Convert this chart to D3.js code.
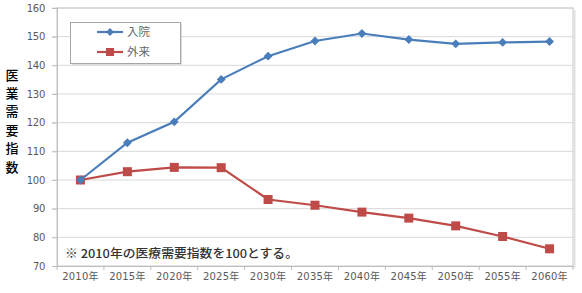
<!DOCTYPE html>
<html>
<head>
<meta charset="utf-8">
<script src="https://cdn.jsdelivr.net/npm/d3@7/dist/d3.min.js"></script>
<style>
  body { margin: 0; background: #fff; }
  svg { display: block; font-family: "Noto Sans CJK JP", sans-serif; }
</style>
</head>
<body>
<svg id="chart"></svg>
<script>
// data
const years = ["2010年", "2015年", "2020年", "2025年", "2030年", "2035年",
  "2040年", "2045年", "2050年", "2055年", "2060年"];
const inpatient = [100, 113.0, 120.3, 135.1, 143.2, 148.5, 151.1, 149.0, 147.5, 148.0, 148.3];
const outpatient = [100, 102.9, 104.4, 104.3, 93.2, 91.2, 88.8, 86.7, 84.0, 80.3, 76.0];
const yTicks = [70, 80, 90, 100, 110, 120, 130, 140, 150, 160];
const seriesNames = ["入院", "外来"];
const yTitle = "医業需要指数";
const note = "※ 2010年の医療需要指数を100とする。";

const width = 582, height = 293;
const plot = { left: 57, right: 573, top: 8, bottom: 266 };

const svg = d3.select("#chart")
  .attr("width", width)
  .attr("height", height);

const x = d3.scaleBand()
  .domain(years)
  .range([plot.left, plot.right])
  .padding(0);

const y = d3.scaleLinear()
  .domain([70, 160])
  .range([plot.bottom, plot.top]);

// gridlines
svg.append("g")
  .selectAll("line")
  .data(yTicks.slice(1))
  .enter()
  .append("line")
  .attr("x1", plot.left - 5)
  .attr("x2", plot.right)
  .attr("y1", d => y(d))
  .attr("y2", d => y(d))
  .attr("stroke", "#d9d9d9")
  .attr("stroke-width", 1);

// plot area border (top/right) with a faint shadow
svg.append("rect")
  .attr("x", plot.left)
  .attr("y", plot.top)
  .attr("width", plot.right - plot.left)
  .attr("height", plot.bottom - plot.top)
  .attr("fill", "none")
  .attr("stroke", "#c8c8c8");
svg.append("line")
  .attr("x1", plot.right + 1.5).attr("x2", plot.right + 1.5)
  .attr("y1", plot.top + 2).attr("y2", plot.bottom + 2)
  .attr("stroke", "#e2e2e2").attr("stroke-width", 2);

// y axis
const yAxis = svg.append("g")
  .attr("transform", `translate(${plot.left},0)`)
  .call(d3.axisLeft(y).tickValues(yTicks).tickSize(5).tickPadding(7));
yAxis.select(".domain").attr("stroke", "#bfbfbf");
yAxis.selectAll(".tick line").attr("stroke", "#bfbfbf");
yAxis.selectAll("text")
  .attr("fill", "#595959")
  .style("font-size", "10px")
  .style("font-family", "'DejaVu Sans', sans-serif")
  .style("letter-spacing", "-0.3px");

// x axis with ticks on band edges
const xAxis = svg.append("g")
  .attr("transform", `translate(0,${plot.bottom})`)
  .call(d3.axisBottom(x).tickSize(0).tickPadding(7));
xAxis.select(".domain").attr("stroke", "#bfbfbf");
xAxis.selectAll("text")
  .attr("fill", "#595959")
  .style("font-size", "10px")
  .style("font-family", "'DejaVu Sans', 'Noto Sans CJK JP', sans-serif")
  .style("letter-spacing", "0.2px");
svg.append("g")
  .selectAll("line")
  .data(years.concat(["end"]))
  .enter()
  .append("line")
  .attr("x1", (d, i) => plot.left + i * x.step())
  .attr("x2", (d, i) => plot.left + i * x.step())
  .attr("y1", plot.bottom)
  .attr("y2", plot.bottom + 4)
  .attr("stroke", "#bfbfbf");

const cx = d => x(d) + x.bandwidth() / 2;
const line = d3.line().x(d => cx(d.year)).y(d => y(d.v));

const blue = "#4a7ebb", red = "#be4b48";
const inData = years.map((yr, i) => ({ year: yr, v: inpatient[i] }));
const outData = years.map((yr, i) => ({ year: yr, v: outpatient[i] }));

svg.append("path").datum(outData)
  .attr("d", line).attr("fill", "none")
  .attr("stroke", red).attr("stroke-width", 2.2);
svg.append("g").selectAll("rect")
  .data(outData).enter().append("rect")
  .attr("x", d => cx(d.year) - 4.5)
  .attr("y", d => y(d.v) - 4.5)
  .attr("width", 9).attr("height", 9)
  .attr("fill", red);

svg.append("path").datum(inData)
  .attr("d", line).attr("fill", "none")
  .attr("stroke", blue).attr("stroke-width", 2.2);
svg.append("g").selectAll("path")
  .data(inData).enter().append("path")
  .attr("d", d3.symbol(d3.symbolDiamond2, 50))
  .attr("transform", d => `translate(${cx(d.year)},${y(d.v)})`)
  .attr("fill", blue);

// legend
const legend = svg.append("g");
legend.append("rect")
  .attr("x", 70.5).attr("y", 22.5)
  .attr("width", 110).attr("height", 41)
  .attr("fill", "#fff").attr("stroke", "#a6a6a6");
legend.append("line")
  .attr("x1", 71.5).attr("x2", 181.5).attr("y1", 64.5).attr("y2", 64.5)
  .attr("stroke", "#dcdcdc");
legend.append("line")
  .attr("x1", 181.5).attr("x2", 181.5).attr("y1", 23.5).attr("y2", 64.5)
  .attr("stroke", "#dcdcdc");
const legendRows = legend.selectAll(".row")
  .data(seriesNames).enter().append("g")
  .attr("transform", (d, i) => `translate(0,${32 + i * 20})`);
legendRows.append("line")
  .attr("x1", 97).attr("x2", 123)
  .attr("stroke", (d, i) => i === 0 ? blue : red)
  .attr("stroke-width", 2.2);
legendRows.each(function (d, i) {
  const g = d3.select(this);
  if (i === 0) {
    g.append("path").attr("d", d3.symbol(d3.symbolDiamond2, 40))
      .attr("transform", "translate(110,0)").attr("fill", blue);
  } else {
    g.append("rect").attr("x", 106).attr("y", -4).attr("width", 8).attr("height", 8)
      .attr("fill", red);
  }
});
legendRows.append("text")
  .attr("x", 127).attr("y", 4)
  .attr("fill", "#666")
  .style("font-size", "11.5px")
  .text(d => d);

// vertical axis title, one character per row
svg.append("g").selectAll("text")
  .data(Array.from(yTitle)).enter().append("text")
  .attr("x", 12)
  .attr("y", (d, i) => 79.5 + i * 18.4)
  .attr("text-anchor", "middle")
  .attr("fill", "#000")
  .style("font-size", "13px")
  .style("font-weight", "500")
  .text(d => d);

// note
svg.append("text")
  .attr("x", 65).attr("y", 257.5)
  .attr("fill", "#333")
  .attr("textLength", 233)
  .attr("lengthAdjust", "spacingAndGlyphs")
  .style("font-size", "12px")
  .style("font-weight", "500")
  .text(note);
</script>
</body>
</html>
